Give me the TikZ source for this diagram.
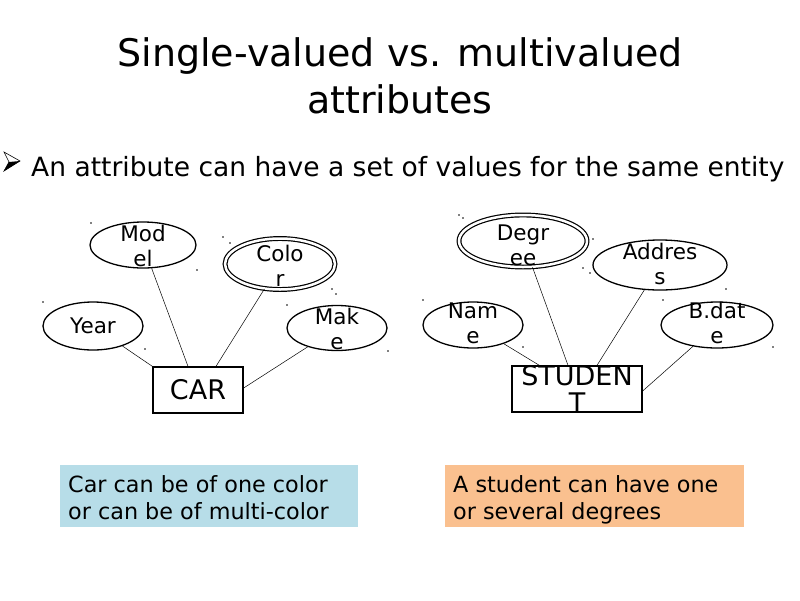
\documentclass[tikz,border=0pt]{standalone}
\usepackage{fontspec}
\setmainfont{DejaVu Sans}
\usetikzlibrary{shapes.geometric}
\definecolor{boxblue}{HTML}{B7DDE8}
\definecolor{boxorange}{HTML}{FAC08F}
\begin{document}
\begin{tikzpicture}[x=1pt,y=-1pt,
  attr/.style={draw,line width=1.3pt,ellipse,inner sep=0pt,font=\fontsize{21.5}{25}\selectfont,align=center},
  mattr/.style={attr,double,double distance=2.5pt,line width=1.2pt},
  atxt/.style={inner sep=0pt,font=\fontsize{21.5}{25}\selectfont,align=center},
  ent/.style={draw,line width=1.3pt,inner sep=0pt,font=\fontsize{27}{27}\selectfont,align=center},
  link/.style={line width=0.5pt},
  note/.style={inner sep=0pt,align=left,font=\fontsize{22.3}{27}\selectfont},
  dotm/.style={fill=black,circle,inner sep=0pt,minimum size=1.6pt}]
\useasboundingbox (0,0) rectangle (800,600);
% title
\node[font=\fontsize{38}{47}\selectfont,align=center] (title) at (400,76) {Single-valued vs. multivalued\\attributes};
% bullet
\draw[line width=0.6pt,line join=miter] (4,152) -- (20,161) -- (4,171) -- (9,162) -- cycle;
\fill[black] (9,162) -- (20,161) -- (4,171) -- cycle;
\node[anchor=west,font=\fontsize{26.5}{30}\selectfont,inner sep=0pt] (bullet) at (31,169) {An attribute can have a set of values for the same entity};
% CAR diagram
\node[attr,minimum width=106pt,minimum height=46pt] (model) at (143,245) {};
\node[atxt] (modelt) at (143,246) {Mod\\el};
\node[mattr,minimum width=110pt,minimum height=51pt] (color) at (280,264) {};
\node[atxt] (colort) at (280,266) {Colo\\r};
\node[attr,minimum width=100pt,minimum height=48pt] (year) at (93,326) {Year};
\node[attr,minimum width=100pt,minimum height=45pt] (make) at (337,328) {};
\node[atxt] (maket) at (337,329) {Mak\\e};
\node[ent,minimum width=90pt,minimum height=46pt] (car) at (198,390) {CAR};
\draw[link] (year) -- (car.north west);
\draw[link] (model) -- ([xshift=-10pt]car.north);
\draw[link] (color) -- ([xshift=18pt]car.north);
\draw[link] (make) -- ([yshift=2pt]car.east);
% STUDENT diagram
\node[mattr,minimum width=128pt,minimum height=52pt] (degree) at (523,241) {};
\node[atxt] (degreet) at (523,245) {Degr\\ee};
\node[attr,minimum width=134pt,minimum height=50pt] (address) at (660,265) {};
\node[atxt] (addresst) at (660,264) {Addres\\s};
\node[attr,minimum width=100pt,minimum height=46pt] (name) at (473,325) {};
\node[atxt] (namet) at (473,323) {Nam\\e};
\node[attr,minimum width=112pt,minimum height=46pt] (bdate) at (717,325) {};
\node[atxt] (bdatet) at (717,323) {B.dat\\e};
\node[ent,minimum width=130pt,minimum height=46pt] (student) at (577,389) {};
\node[inner sep=0pt,font=\fontsize{27}{27}\selectfont,align=center] (studentt) at (577,389) {STUDEN\\T};
\draw[link] (name) -- ([xshift=28pt]student.north west);
\draw[link] (degree) -- ([xshift=-9pt]student.north);
\draw[link] (address) -- ([xshift=20pt]student.north);
\draw[link] (bdate) -- ([yshift=-2pt]student.east);
% notes
\fill[boxblue] (60,465) rectangle (358,527);
\node[note,anchor=north west] (note1) at (68,475) {Car can be of one color\\or can be of multi-color};
\fill[boxorange] (445,465) rectangle (744,527);
\node[note,anchor=north west] (note2) at (453,475) {A student can have one\\or several degrees};
% handle dots
\foreach \p in {(91,223),(223,237),(230,243),(197,270),(332,289),(336,294),(43,302),(287,305),(145,349),(388,351),
                (459,215),(463,218),(593,239),(583,268),(590,273),(726,289),(423,300),(663,300),(523,347),(773,347)}
  \node[dotm] at \p {};
\end{tikzpicture}
\end{document}
